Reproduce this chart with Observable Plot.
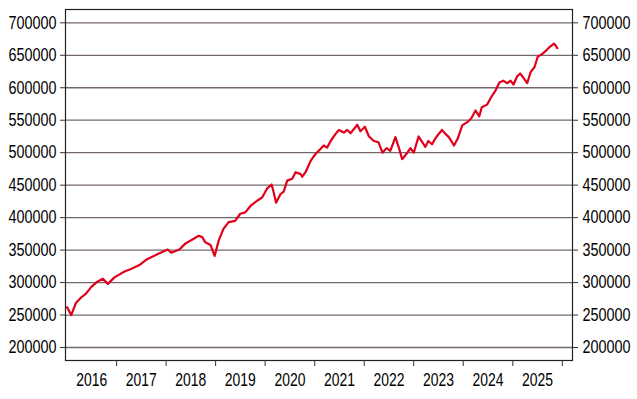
<!DOCTYPE html>
<html>
<head>
<meta charset="utf-8">
<script src="https://cdn.jsdelivr.net/npm/d3@7"></script>
<script src="https://cdn.jsdelivr.net/npm/@observablehq/plot@0.6"></script>
<style>
  html, body { margin: 0; padding: 0; background: #fff; }
  #chart { width: 637px; height: 399px; }
</style>
</head>
<body>
<div id="chart"></div>
<script>
const dates = [
  "2016-01-02","2016-02-01","2016-03-08","2016-04-14","2016-05-20","2016-06-27","2016-08-03","2016-09-21","2016-10-28","2016-12-16",
  "2017-02-28","2017-04-17","2017-06-18","2017-08-06","2017-09-13","2017-11-13",
  "2018-01-13","2018-02-08","2018-04-09","2018-05-22","2018-07-11","2018-08-29","2018-09-24","2018-10-17","2018-11-24","2018-12-25",
  "2019-01-24","2019-03-01","2019-04-07","2019-05-25","2019-07-02","2019-08-08","2019-09-15","2019-11-03","2019-12-10",
  "2020-01-16","2020-02-18","2020-03-04","2020-03-22","2020-04-23","2020-05-17","2020-06-12","2020-07-19","2020-08-13","2020-09-19","2020-10-01","2020-10-25","2020-12-01","2020-12-20",
  "2021-01-07","2021-02-14","2021-03-08","2021-04-03","2021-04-28","2021-06-04","2021-06-28","2021-08-04","2021-08-28","2021-09-22","2021-11-11","2021-12-04",
  "2022-01-06","2022-02-05","2022-03-13","2022-04-16","2022-05-16","2022-06-14","2022-07-13","2022-08-19","2022-09-13","2022-10-08","2022-11-15","2022-12-08",
  "2023-01-01","2023-02-06","2023-03-06","2023-03-28","2023-04-19","2023-05-16","2023-06-10","2023-07-01","2023-07-29","2023-08-23","2023-09-17","2023-10-25","2023-11-20","2023-12-25",
  "2024-01-31","2024-03-01","2024-04-01","2024-04-28","2024-05-17","2024-06-25","2024-07-24","2024-08-27","2024-09-24","2024-10-22","2024-11-21","2024-12-15",
  "2025-01-06","2025-02-03","2025-02-24","2025-03-22","2025-04-17","2025-05-12","2025-06-10","2025-07-04","2025-08-06","2025-09-07","2025-10-01","2025-10-31","2025-11-13","2025-11-25"
];
const values = [
  262000,250000,269000,277000,283000,293000,300000,306000,298000,308000,
  317000,321000,327000,335000,339000,345000,
  351000,346000,351000,360000,366000,372000,370000,362000,358000,341000,
  365000,383000,393000,395000,406000,408000,418000,426000,431000,
  445000,451000,439000,423000,436000,440000,457000,460000,470000,467000,463000,470000,487000,493000,
  498000,506000,511000,508000,518000,529000,535000,531000,535000,530000,543000,533000,
  540000,525000,518000,516000,500000,507000,503000,524000,508000,490000,500000,507000,
  500000,525000,516000,509000,518000,513000,522000,528000,535000,529000,524000,511000,521000,542000,
  547000,553000,565000,556000,570000,574000,585000,596000,608000,611000,607000,611000,
  605000,618000,622000,615000,607000,624000,632000,648000,652000,658000,663000,668000,665000,661000
];
const yTicks = [200000,250000,300000,350000,400000,450000,500000,550000,600000,650000,700000];
const yearStarts = ["2017","2018","2019","2020","2021","2022","2023","2024","2025","2026"];
const yearLabels = ["2016","2017","2018","2019","2020","2021","2022","2023","2024","2025"];

const parse = d3.utcParse("%Y-%m-%d");
const series = dates.map((d, i) => ({date: parse(d), value: values[i]}));
const tickDates = yearStarts.map(y => parse(y + "-01-01"));
const labelDates = yearLabels.map(y => parse(y + "-07-02"));

const chart = Plot.plot({
  width: 637,
  height: 399,
  marginLeft: 65,
  marginRight: 65,
  marginTop: 9,
  marginBottom: 39,
  style: {fontFamily: "'Liberation Sans', Arial, sans-serif", fontSize: "15px", color: "#000", background: "#fff"},
  x: {type: "utc", domain: [parse("2015-12-21"), parse("2026-03-17")]},
  y: {domain: [180000, 720500]},
  marks: [
    Plot.ruleY(yTicks, {stroke: "#76676a", strokeWidth: 1.3}),
    Plot.line(series, {x: "date", y: "value", stroke: "#e0001b", strokeWidth: 2.2}),
    Plot.frame({stroke: "#222", strokeWidth: 1.2}),
    Plot.axisY(yTicks, {anchor: "left", tickSize: 5, tickPadding: 4, tickFormat: d => String(d), label: null, stroke: "#333"}),
    Plot.axisY(yTicks, {anchor: "right", tickSize: 5, tickPadding: 5, tickFormat: d => String(d), label: null, stroke: "#333"}),
    Plot.axisX(tickDates, {anchor: "bottom", tickSize: 6, tickFormat: () => "", label: null, stroke: "#333"}),
    Plot.axisX(labelDates, {anchor: "bottom", tickSize: 0, tickPadding: 13, tickFormat: d3.utcFormat("%Y"), label: null})
  ]
});
document.getElementById("chart").appendChild(chart);
// condensed, tall look of the reference's tick labels
function condense(sel, len) {
  chart.querySelectorAll(sel).forEach(t => {
    if (!t.textContent) return;
    t.setAttribute("textLength", len);
    t.setAttribute("lengthAdjust", "spacingAndGlyphs");
    const tr = t.getAttribute("transform");
    if (tr) {
      t.setAttribute("transform", tr + " scale(1,1.2)");
    } else {
      const x = t.getAttribute("x") || 0, y = t.getAttribute("y") || 0;
      t.removeAttribute("x"); t.removeAttribute("y");
      t.setAttribute("transform", `translate(${x},${y}) scale(1,1.2)`);
    }
  });
}
condense('g[aria-label="y-axis tick label"] text', 48);
condense('g[aria-label="x-axis tick label"] text', 31);
</script>
</body>
</html>
